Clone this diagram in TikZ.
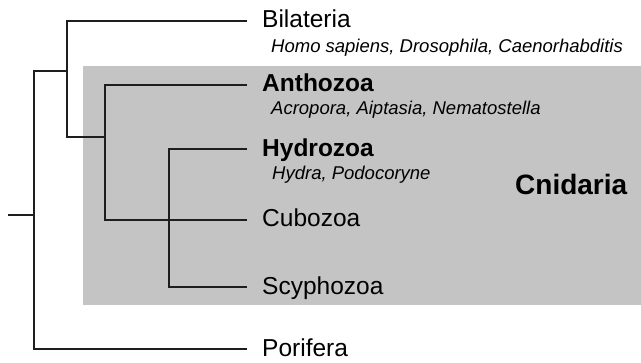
\documentclass[tikz,border=0pt]{standalone}
\usepackage{fontspec}
\setmainfont{Liberation Sans}
\definecolor{cnidgray}{RGB}{196,196,196}
\definecolor{branchcol}{RGB}{30,30,30}
\tikzset{
  branch/.style={line width=2pt, draw=branchcol},
  taxon/.style={anchor=base west, inner sep=0pt, font=\fontsize{24.5}{26}\selectfont},
  species/.style={anchor=base west, inner sep=0pt, font=\fontsize{18.5}{20}\selectfont\itshape},
}
\begin{document}
\begin{tikzpicture}[x=1pt,y=-1pt]
  \useasboundingbox (0,0) rectangle (641,363);
  \fill[cnidgray] (83,66.5) rectangle (641,305);

  % tree nodes
  \coordinate (stem) at (8,215);
  \coordinate (root) at (34,215);
  \coordinate (nA) at (67,70.7);
  \coordinate (nB) at (105,137);
  \coordinate (nC) at (169,220);
  % leaf tips
  \coordinate (tBil) at (247,21);
  \coordinate (tAnt) at (247,85);
  \coordinate (tHyd) at (247,149);
  \coordinate (tCub) at (247,220);
  \coordinate (tScy) at (247,287);
  \coordinate (tPor) at (247,349);

  \draw[branch] (stem) -- (root);
  \draw[branch] (nA) -| (root) |- (tPor);
  \draw[branch] (tBil) -| (nA) |- (nB);
  \draw[branch] (tAnt) -| (nB) |- (tCub);
  \draw[branch] (tHyd) -| (nC) |- (tScy);

  % labels
  \node[taxon] (bil) at (262,27.5) {Bilateria};
  \node[species] (bilsp) at (271,53) {Homo sapiens, Drosophila, Caenorhabditis};
  \node[taxon, font=\fontsize{24.5}{26}\selectfont\bfseries] (ant) at (262,92) {Anthozoa};
  \node[species] (antsp) at (271,115) {Acropora, Aiptasia, Nematostella};
  \node[taxon, font=\fontsize{24.5}{26}\selectfont\bfseries] (hyd) at (262,157) {Hydrozoa};
  \node[species] (hydsp) at (272,180) {Hydra, Podocoryne};
  \node[taxon] (cub) at (262,227) {Cubozoa};
  \node[taxon] (scy) at (262,295) {Scyphozoa};
  \node[taxon] (por) at (262,357) {Porifera};
  \node[anchor=base west, inner sep=0pt, font=\fontsize{28}{30}\selectfont\bfseries] (cnid) at (515,195) {Cnidaria};
\end{tikzpicture}
\end{document}
